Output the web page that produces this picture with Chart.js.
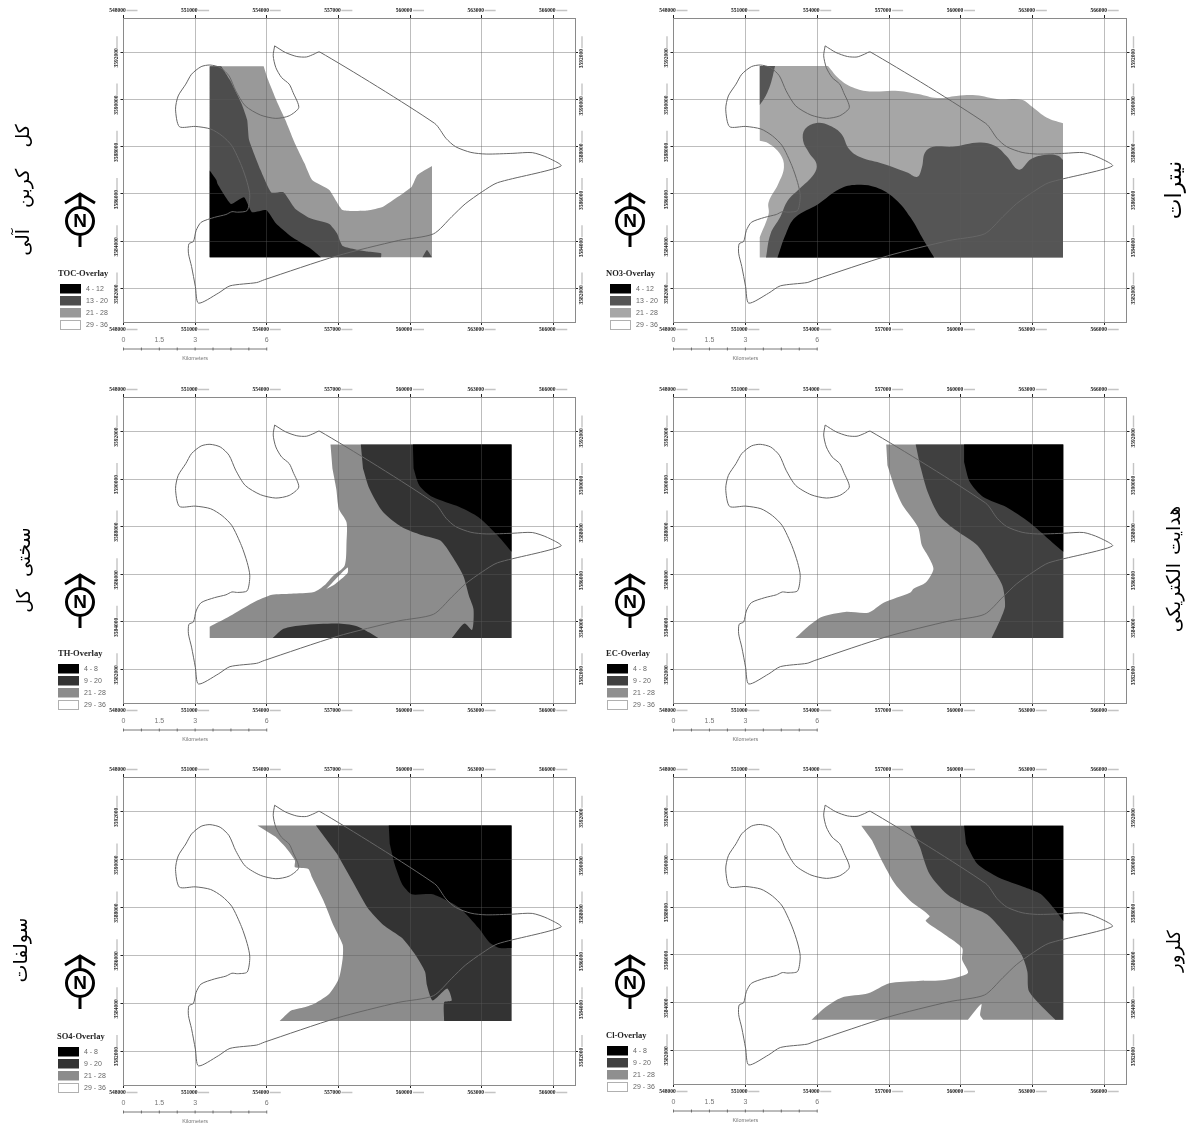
<!DOCTYPE html>
<html>
<head>
<meta charset="utf-8">
<title>Overlay maps</title>
<script src="https://cdn.jsdelivr.net/npm/chart.js@4/dist/chart.umd.js"></script>
<style>
html, body { margin: 0; background: #fff; }
#page { position: relative; width: 1198px; height: 1126px; overflow: hidden; }
canvas { position: absolute; filter: blur(0.45px); }
</style>
</head>
<body>
<div id="page"></div>
<script>
// axes, in km (labels are shown in metres)
const xTickValues = [548, 551, 554, 557, 560, 563, 566];
const yTickValues = [3582, 3584, 3586, 3588, 3590, 3592];
const scaleBarKm = [0, 1.5, 3, 6];

// study area outline [easting, northing], same for every map
const boundary = [[554.33,3592.27],[554.78,3591.99],[555.26,3591.82],[555.66,3591.80],[555.98,3591.92],[556.22,3592.01],[561.03,3588.99],[561.51,3588.35],[561.91,3588.00],[562.55,3587.76],[563.19,3587.69],[564.31,3587.72],[565.12,3587.75],[565.76,3587.54],[566.32,3587.18],[563.67,3586.48],[563.03,3586.10],[562.31,3585.58],[561.75,3585.04],[560.98,3584.31],[559.51,3584.03],[556.94,3583.38],[553.90,3582.37],[553.58,3582.25],[552.46,3582.11],[551.97,3581.80],[551.14,3581.38],[551.01,3582.08],[550.85,3582.93],[550.72,3583.49],[550.74,3583.89],[550.93,3583.99],[551.04,3584.45],[551.25,3584.80],[551.81,3585.01],[552.29,3585.13],[552.54,3585.25],[552.78,3585.23],[553.18,3585.30],[553.29,3585.93],[553.18,3586.49],[552.94,3587.20],[552.54,3588.04],[552.13,3588.46],[551.65,3588.75],[551.01,3588.86],[550.34,3588.85],[550.18,3589.59],[550.29,3590.15],[550.61,3590.65],[550.85,3591.07],[551.25,3591.39],[551.62,3591.46],[552.05,3591.35],[552.42,3591.00],[552.70,3590.37],[553.10,3589.73],[553.74,3589.34],[554.38,3589.20],[554.94,3589.31],[555.34,3589.66],[555.10,3590.30],[554.94,3590.65],[554.62,3590.93],[554.38,3591.35],[554.27,3591.85],[554.33,3592.27]];

// TOC zones
const tocMid = [[551.61,3591.41],[553.87,3591.41],[554.06,3590.82],[554.46,3589.83],[554.78,3589.13],[555.18,3588.14],[555.58,3587.30],[555.90,3586.59],[556.62,3586.17],[557.18,3585.32],[558.22,3585.30],[558.87,3585.46],[559.51,3585.89],[560.07,3586.31],[560.31,3586.80],[560.92,3587.18],[560.92,3583.32],[551.61,3583.32]];
const tocDark = [[551.61,3591.41],[552.09,3591.41],[552.46,3590.82],[552.94,3589.83],[553.18,3589.13],[553.26,3588.28],[553.74,3587.01],[554.19,3586.06],[554.70,3586.07],[555.18,3585.39],[555.82,3584.97],[556.62,3584.73],[556.94,3584.34],[557.18,3583.80],[558.22,3583.56],[558.79,3583.49],[558.79,3583.32],[551.61,3583.32]];
const tocDarkSpot = [[560.52,3583.32],[560.71,3583.63],[560.92,3583.32]];
const tocBlack = [[551.61,3586.99],[551.89,3586.59],[551.94,3586.42],[552.50,3585.58],[553.05,3585.86],[553.38,3585.23],[553.98,3585.32],[554.38,3584.76],[555.02,3584.20],[555.82,3583.70],[556.27,3583.32],[551.61,3583.32]];

// NO3 zones
const no3Mid = [[551.60,3591.42],[554.45,3591.42],[554.93,3590.86],[555.57,3590.48],[556.29,3590.34],[557.25,3590.37],[558.21,3590.23],[559.01,3590.06],[559.81,3590.15],[560.61,3590.18],[561.57,3590.01],[562.53,3589.99],[563.01,3589.66],[563.57,3589.24],[564.26,3588.99],[564.26,3583.31],[551.60,3583.31],[551.60,3584.17],[551.97,3585.15],[551.97,3585.65],[552.37,3586.42],[552.61,3587.13],[552.45,3587.69],[551.97,3588.14],[551.60,3588.25]];
const no3DarkCorner = [[551.60,3591.42],[552.24,3591.42],[552.05,3590.65],[551.81,3590.08],[551.60,3589.77]];
const no3Dark = [[551.86,3583.31],[552.05,3584.31],[552.45,3585.01],[552.77,3585.72],[553.25,3586.21],[553.86,3586.84],[553.97,3587.27],[553.65,3587.76],[553.41,3588.25],[553.49,3588.75],[553.97,3589.01],[554.53,3588.89],[555.01,3588.54],[555.33,3587.90],[555.81,3587.55],[556.77,3587.27],[557.73,3586.92],[558.18,3586.73],[558.37,3587.13],[558.50,3587.76],[558.85,3588.00],[559.65,3588.00],[560.77,3588.18],[561.41,3588.04],[561.89,3587.62],[562.42,3587.03],[562.93,3587.48],[563.57,3587.66],[564.05,3587.62],[564.26,3587.44],[564.26,3583.31]];
const no3Black = [[552.34,3583.31],[552.69,3584.31],[553.09,3585.01],[554.05,3585.58],[554.93,3586.21],[555.65,3586.39],[556.45,3586.28],[557.25,3585.79],[557.89,3585.01],[558.45,3584.03],[558.88,3583.31]];

// TH zones
const thMid = [[556.67,3591.45],[564.25,3591.45],[564.25,3583.31],[551.61,3583.31],[551.61,3583.79],[552.46,3584.24],[553.42,3584.80],[554.22,3585.13],[555.02,3585.18],[555.98,3585.25],[556.43,3585.54],[556.78,3585.93],[557.26,3586.35],[557.34,3587.34],[557.34,3588.18],[557.02,3588.75],[556.91,3589.59],[556.75,3590.44]];
const thGap = [[556.49,3585.37],[557.38,3586.28],[557.38,3586.04],[556.81,3585.54]];
const thDark = [[557.94,3591.45],[564.25,3591.45],[564.25,3583.31],[561.75,3583.31],[562.28,3583.92],[562.60,3583.65],[562.66,3584.52],[562.47,3585.08],[562.23,3585.93],[561.75,3586.77],[561.27,3587.41],[560.47,3587.65],[559.67,3587.97],[558.87,3588.61],[558.30,3589.59],[558.03,3590.44]];
const thDarkLens = [[554.25,3583.31],[554.70,3583.70],[555.50,3583.85],[556.94,3583.92],[557.74,3583.82],[558.30,3583.54],[558.67,3583.31]];
const thBlack = [[560.12,3591.45],[564.25,3591.45],[564.25,3586.94],[563.67,3587.62],[562.87,3588.39],[562.07,3588.82],[560.95,3589.24],[560.39,3589.73],[560.15,3590.44]];

// EC zones
const ecMid = [[556.88,3591.45],[564.27,3591.45],[564.27,3583.31],[553.09,3583.31],[553.73,3583.89],[554.21,3584.21],[555.17,3584.41],[556.13,3584.38],[556.77,3584.80],[557.89,3585.23],[558.02,3585.39],[558.53,3585.65],[558.85,3586.21],[558.66,3586.70],[558.37,3587.20],[558.21,3587.97],[557.57,3588.89],[557.25,3589.59],[556.93,3590.58]];
const ecDark = [[558.11,3591.45],[564.27,3591.45],[564.27,3583.31],[561.28,3583.31],[561.65,3584.10],[561.84,3584.66],[561.73,3585.51],[561.25,3586.35],[560.69,3587.20],[559.81,3587.83],[559.09,3588.46],[558.61,3589.45],[558.29,3590.58]];
const ecBlack = [[560.13,3591.45],[564.27,3591.45],[564.27,3586.94],[563.65,3587.48],[562.85,3588.18],[561.89,3588.82],[560.93,3589.24],[560.37,3589.87],[560.13,3590.72]];

// SO4 zones
const so4Mid = [[553.61,3591.42],[564.25,3591.42],[564.25,3583.25],[554.54,3583.25],[555.02,3583.69],[555.58,3583.83],[556.06,3584.01],[556.62,3584.39],[557.02,3585.03],[557.18,3585.87],[557.18,3586.44],[556.78,3587.28],[556.38,3588.27],[555.90,3589.25],[555.74,3589.61],[555.18,3589.68],[555.18,3589.96],[554.78,3590.52],[554.38,3590.94]];
const so4Dark = [[556.06,3591.42],[564.25,3591.42],[564.25,3583.25],[561.43,3583.25],[561.43,3584.04],[561.75,3584.11],[561.56,3584.61],[560.95,3584.11],[560.71,3584.75],[560.63,3585.31],[560.23,3586.01],[559.67,3586.72],[558.87,3587.28],[558.22,3587.99],[557.58,3589.11],[556.94,3590.24]];
const so4Black = [[559.11,3591.42],[564.25,3591.42],[564.25,3586.30],[563.75,3586.30],[563.35,3586.51],[562.87,3587.14],[562.07,3587.99],[560.95,3588.55],[560.07,3588.55],[559.67,3588.97],[559.35,3589.82],[559.15,3590.66]];

// Cl zones
const clMid = [[555.84,3591.41],[564.27,3591.41],[564.27,3583.27],[560.93,3583.27],[560.80,3583.46],[560.85,3583.93],[560.29,3583.27],[553.76,3583.27],[554.37,3583.82],[555.01,3584.20],[556.13,3584.38],[557.01,3584.80],[558.21,3584.90],[559.33,3584.94],[560.29,3585.23],[560.05,3585.79],[560.05,3586.28],[559.33,3586.84],[558.53,3587.41],[558.69,3587.62],[557.89,3588.25],[557.25,3588.96],[556.77,3589.80],[556.29,3590.79]];
const clDark = [[557.89,3591.41],[564.27,3591.41],[564.27,3583.27],[563.94,3583.27],[562.85,3584.45],[562.77,3585.30],[562.53,3586.00],[561.89,3586.84],[561.09,3587.69],[560.13,3588.11],[559.41,3588.54],[558.69,3589.38],[558.29,3590.51]];
const clBlack = [[560.13,3591.41],[564.27,3591.41],[564.27,3587.41],[563.97,3587.83],[563.33,3588.54],[562.69,3588.82],[561.57,3589.24],[560.69,3589.80],[560.21,3590.65]];

const classesWide = ['4 - 12', '13 - 20', '21 - 28', '29 - 36'];
const classesNarrow = ['4 - 8', '9 - 20', '21 - 28', '29 - 36'];

const X_MIN = 548, X_MAX = 566.91, Y_MIN = 3580.58, Y_MAX = 3593.45;

const panels = [
  { title: 'TOC-Overlay', name: 'کل کربن آلی', classes: classesWide, colors: ['#000', '#4d4d4d', '#999'], tension: 0.15,
    zones: [[tocMid, 2], [tocDark, 1], [tocDarkSpot, 1], [tocBlack, 0]],
    box: [0, 0, 600, 375], frame: [123.5, 18, 575, 322], legend: [58, 60, 274, 284], arrow: [80, 221], label: [24, 190, 19, 15] },
  { title: 'NO3-Overlay', name: 'نیترات', classes: classesWide, colors: ['#000', '#555', '#a6a6a6'], tension: 0.4,
    zones: [[no3Mid, 2], [no3DarkCorner, 1], [no3Dark, 1], [no3Black, 0]],
    box: [600, 0, 598, 375], frame: [673.5, 18, 1126.5, 322], legend: [606, 610, 274, 284], arrow: [630, 221], label: [1175, 190, 22, 0] },
  { title: 'TH-Overlay', name: 'سختی  کل', classes: classesNarrow, colors: ['#000', '#333', '#8c8c8c'], tension: 0.25,
    zones: [[thMid, 2], [thGap, 3], [thDark, 1], [thDarkLens, 1], [thBlack, 0]],
    box: [0, 375, 600, 375], frame: [123.5, 397, 575, 703], legend: [58, 58, 654, 664], arrow: [80, 602], label: [25, 570, 19, 0] },
  { title: 'EC-Overlay', name: 'هدایت الکتریکی', classes: classesNarrow, colors: ['#000', '#404040', '#8f8f8f'], tension: 0.25,
    zones: [[ecMid, 2], [ecDark, 1], [ecBlack, 0]],
    box: [600, 375, 598, 375], frame: [673.5, 397, 1126.5, 703], legend: [606, 607, 654, 664], arrow: [630, 602], label: [1175, 569, 19, 2] },
  { title: 'SO4-Overlay', name: 'سولفات', classes: classesNarrow, colors: ['#000', '#333', '#8c8c8c'], tension: 0.2,
    zones: [[so4Mid, 2], [so4Dark, 1], [so4Black, 0]],
    box: [0, 750, 600, 376], frame: [123.5, 777, 575, 1085], legend: [57, 58, 1037, 1047], arrow: [80, 983], label: [22, 950, 19, 0] },
  { title: 'Cl-Overlay', name: 'کلرور', classes: classesNarrow, colors: ['#000', '#404040', '#8f8f8f'], tension: 0.25,
    zones: [[clMid, 2], [clDark, 1], [clBlack, 0]],
    box: [600, 750, 598, 376], frame: [673.5, 777, 1126.5, 1084], legend: [606, 607, 1036, 1046], arrow: [630, 983], label: [1175, 951, 18, 0] }
];

const AXIS = 14;
const TICK_FONT = { family: 'Liberation Serif', size: 5.5, weight: 'bold' };

function axis(position, values, tickExtra) {
  const horizontal = position === 'top' || position === 'bottom';
  return {
    type: 'linear',
    axis: horizontal ? 'x' : 'y',
    position,
    min: horizontal ? X_MIN : Y_MIN,
    max: horizontal ? X_MAX : Y_MAX,
    afterBuildTicks: s => { s.ticks = values.map(value => ({ value })); },
    afterFit: s => {
      if (horizontal) s.height = AXIS; else s.width = AXIS;
      s.paddingLeft = s.paddingRight = s.paddingTop = s.paddingBottom = 0;
    },
    grid: {
      color: 'rgba(90,90,90,0.4)', lineWidth: 1, z: 1, tickLength: 3, tickColor: '#222', tickWidth: 1,
      drawOnChartArea: position === 'bottom' || position === 'left'
    },
    border: { color: '#8a8a8a', width: 1, z: 1 },
    ticks: Object.assign({
      autoSkip: false, font: TICK_FONT, color: '#222', padding: 1.5,
      callback: v => String(v * 1000)
    }, tickExtra)
  };
}

// legend, north arrow, scale bar, grey dashes beside the tick labels, side label
const mapExtras = {
  id: 'mapExtras',
  afterDraw(chart) {
    const p = chart.canvas.$panel, ctx = chart.ctx, ox = p.box[0], oy = p.box[1];
    const { top, bottom, left, right } = chart.chartArea;
    const sx = chart.scales.x, sy = chart.scales.y;
    ctx.save();

    // dashes after the tick labels
    ctx.strokeStyle = '#c4c4c4';
    ctx.lineWidth = 1.4;
    ctx.beginPath();
    [top - 7.5, bottom + 7.5].forEach(y => {
      xTickValues.forEach(v => {
        const px = sx.getPixelForValue(v);
        ctx.moveTo(px + 3, y); ctx.lineTo(px + 14, y);
      });
    });
    [left - 6.5, right + 7].forEach(x => {
      yTickValues.forEach(v => {
        const py = sy.getPixelForValue(v);
        ctx.moveTo(x, py - 4); ctx.lineTo(x, py - 16);
      });
    });
    ctx.stroke();

    // legend
    const [tx, swx, ty, swy] = p.legend;
    ctx.textBaseline = 'middle';
    ctx.fillStyle = '#222';
    ctx.font = 'bold 8.5px "Liberation Serif"';
    ctx.fillText(p.title, tx - ox, ty - oy);
    ctx.font = '7px "Liberation Sans"';
    p.classes.forEach((c, i) => {
      const y = swy - oy + i * 12;
      if (i < 3) { ctx.fillStyle = p.colors[i]; ctx.fillRect(swx - ox, y, 21, 9.5); }
      else { ctx.strokeStyle = '#b0b0b0'; ctx.lineWidth = 1; ctx.strokeRect(swx - ox + 0.5, y + 0.5, 20, 9); }
      ctx.fillStyle = '#666';
      ctx.fillText(c, swx - ox + 26, y + 5);
    });

    // scale bar
    ctx.strokeStyle = '#555';
    ctx.lineWidth = 0.8;
    ctx.beginPath();
    const barY = bottom + 27;
    ctx.moveTo(sx.getPixelForValue(X_MIN), barY); ctx.lineTo(sx.getPixelForValue(X_MIN + 6), barY);
    for (let km = 0; km <= 6; km += 0.75) {
      const px = sx.getPixelForValue(X_MIN + km);
      ctx.moveTo(px, barY - 1.5); ctx.lineTo(px, barY + 1.5);
    }
    ctx.stroke();
    ctx.fillStyle = '#777';
    ctx.textAlign = 'center';
    ctx.font = '7px "Liberation Sans"';
    scaleBarKm.forEach(km => ctx.fillText(String(km), sx.getPixelForValue(X_MIN + km), bottom + 18.5));
    ctx.font = '5.5px "Liberation Sans"';
    ctx.fillText('Kilometers', sx.getPixelForValue(X_MIN + 3), bottom + 36.5);

    // north arrow
    const ax = p.arrow[0] - ox, ay = p.arrow[1] - oy;
    ctx.strokeStyle = '#000';
    ctx.lineWidth = 3;
    ctx.beginPath();
    ctx.moveTo(ax - 15, ay - 18); ctx.lineTo(ax, ay - 27); ctx.lineTo(ax + 15, ay - 18);
    ctx.moveTo(ax, ay - 27); ctx.lineTo(ax, ay - 13);
    ctx.moveTo(ax, ay + 13); ctx.lineTo(ax, ay + 26);
    ctx.moveTo(ax + 13.5, ay); ctx.arc(ax, ay, 13.5, 0, Math.PI * 2);
    ctx.stroke();
    ctx.fillStyle = '#000';
    ctx.font = 'bold 19px "Liberation Sans"';
    ctx.fillText('N', ax, ay + 1);

    // side label
    ctx.translate(p.label[0] - ox, p.label[1] - oy);
    ctx.rotate(-Math.PI / 2);
    ctx.font = p.label[2] + 'px "DejaVu Sans"';
    ctx.wordSpacing = p.label[3] + 'px';
    ctx.fillText(p.name, 0, 0);
    ctx.restore();
  }
};

const page = document.getElementById('page');

panels.forEach(p => {
  const canvas = document.createElement('canvas');
  canvas.width = p.box[2];
  canvas.height = p.box[3];
  canvas.style.left = p.box[0] + 'px';
  canvas.style.top = p.box[1] + 'px';
  canvas.$panel = p;
  page.appendChild(canvas);

  const toPts = arr => arr.map(([x, y]) => ({ x, y }));

  // a vertex on the raster's edge is doubled so the curve keeps a square corner there
  const mid = p.zones[0][0];
  const xs = mid.map(d => d[0]), ys = mid.map(d => d[1]);
  const x0 = Math.min(...xs), x1 = Math.max(...xs), y0 = Math.min(...ys), y1 = Math.max(...ys);
  const withCorners = arr => arr.flatMap(d =>
    (d[0] === x0 || d[0] === x1 || d[1] === y0 || d[1] === y1) ? [d, d] : [d]);

  const fills = p.zones.map(([pts, c]) => ({
    data: toPts(withCorners(pts)), showLine: true, fill: 'shape', pointRadius: 0, borderWidth: 0, tension: p.tension,
    backgroundColor: c === 3 ? '#fff' : p.colors[c], xAxisID: 'x', yAxisID: 'y'
  }));
  const outline = {
    data: toPts(boundary), showLine: true, fill: false, pointRadius: 0, borderWidth: 1, tension: 0.25,
    borderColor: '#666', xAxisID: 'x', yAxisID: 'y'
  };
  // first dataset is drawn on top
  const datasets = [outline].concat(fills.reverse());

  new Chart(canvas.getContext('2d'), {
    type: 'scatter',
    data: { datasets },
    options: {
      responsive: false,
      animation: false,
      events: [],
      layout: {
        padding: {
          left: p.frame[0] - p.box[0] - AXIS,
          top: p.frame[1] - p.box[1] - AXIS,
          right: p.box[0] + p.box[2] - p.frame[2] - AXIS,
          bottom: p.box[1] + p.box[3] - p.frame[3] - AXIS
        }
      },
      scales: {
        x: axis('bottom', xTickValues, { labelOffset: -6, maxRotation: 0 }),
        x2: axis('top', xTickValues, { labelOffset: -6, maxRotation: 0 }),
        y: axis('left', yTickValues, { minRotation: 90, maxRotation: 90, labelOffset: -4, padding: 3.5 }),
        y2: axis('right', yTickValues, { minRotation: 90, maxRotation: 90, labelOffset: 16, padding: 4 })
      },
      plugins: { legend: { display: false }, tooltip: { enabled: false } }
    },
    plugins: [mapExtras]
  });
});
</script>
</body>
</html>
